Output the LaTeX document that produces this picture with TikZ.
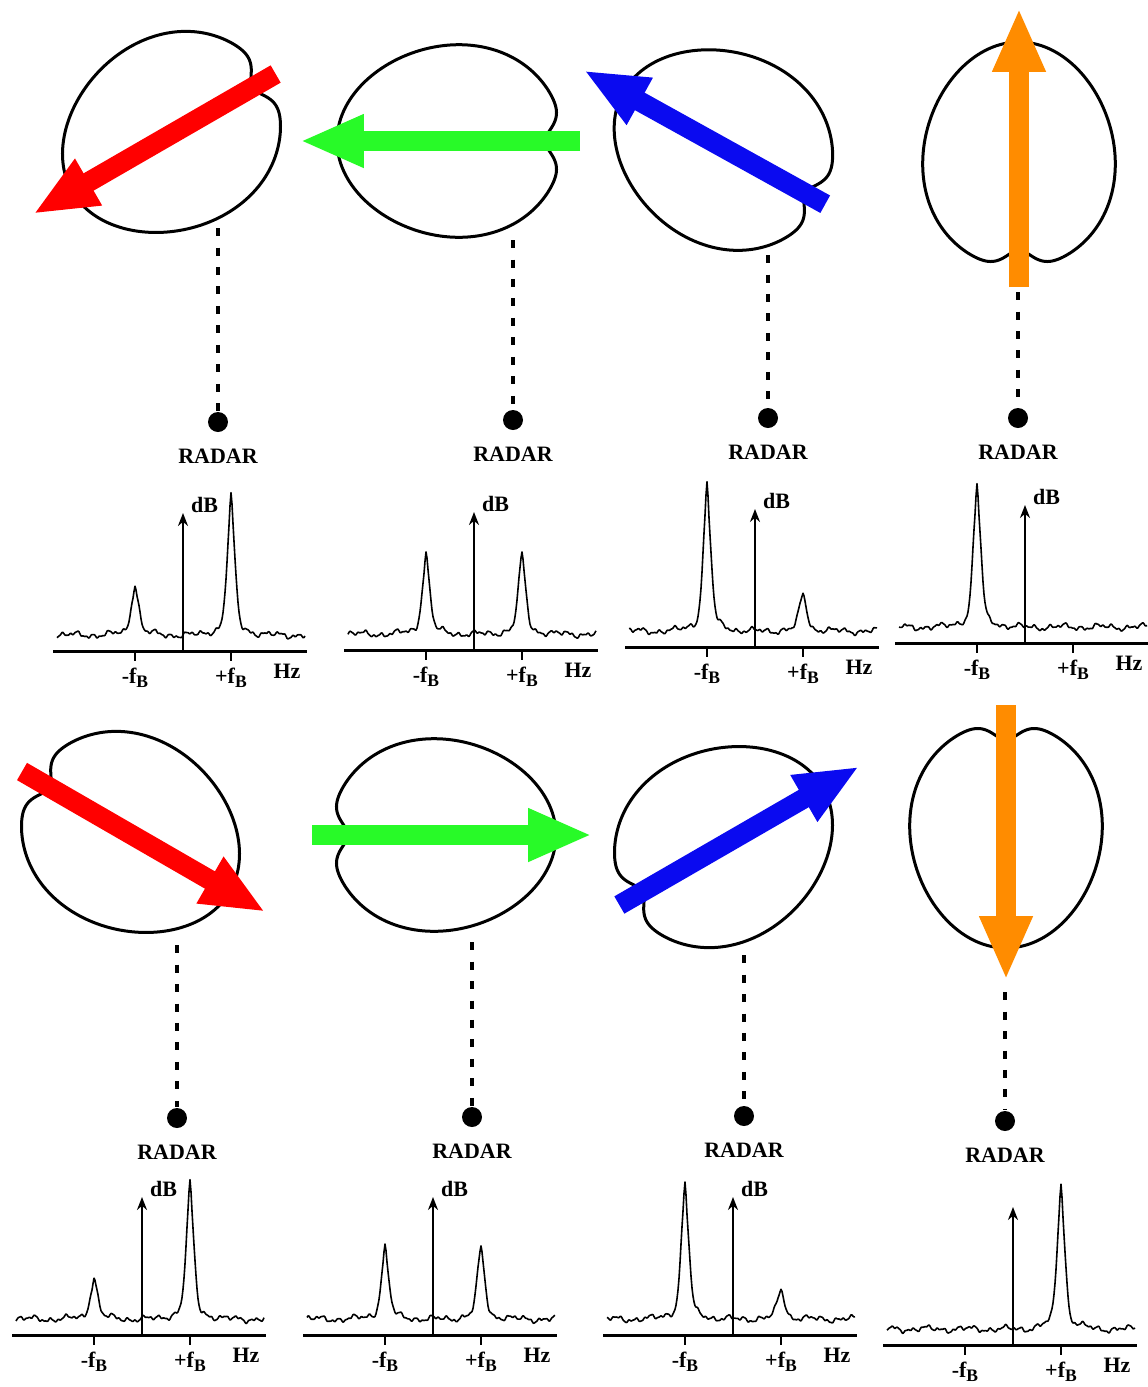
\documentclass[tikz,border=0pt]{standalone}
\usepackage{fontspec}
\setmainfont{Liberation Serif}
\usetikzlibrary{calc,positioning,arrows.meta}

\definecolor{arrowred}{RGB}{255,0,0}
\definecolor{arrowgreen}{RGB}{40,250,40}
\definecolor{arrowblue}{RGB}{10,10,240}
\definecolor{arroworange}{RGB}{255,140,0}

% frequency labels, the index set a little lower
\newcommand{\fb}[1]{#1f\raisebox{-0.35ex}{\fontsize{10}{12}\selectfont B}}

% target outline with the moving part drawn as a block arrow
\newcommand{\bean}[5]{%
  \begin{scope}[shift={#1}, rotate=#2]
    \draw[beanline] plot[domain=0:360, samples=145, smooth]
      ({113*cos(\x)*(1-0.16*pk(\x,180,11))},
       {96*sin(\x)*(1-0.08*cos(\x))*(1-0.16*pk(\x,180,11))}) -- cycle;
    \draw[bigarrow, #5] (#3,0) -- (#4,0);
  \end{scope}}

% doppler spectrum: name, origin x, origin y, left peak, right peak, noise phase
\newcommand{\spectrum}[6]{%
  \begin{scope}[shift={(#2,#3)}]
    \coordinate (#1) at (0,0);
    \coordinate (#1top) at (0,-138);
    \draw[hzaxis] (-130,0) -- (124,0);
    \draw[dbaxis] (#1) -- (#1top);
    \draw[fbtick] (-48,0) -- (-48,10);
    \draw[fbtick] (48,0) -- (48,10);
    \node[lbl] (#1m) at (-48,27) {\fb{-}};
    \node[lbl] (#1p) at (48,27) {\fb{+}};
    \node[lbl] (#1hz) at (104,20) {Hz};
    \draw[trace] plot[domain=-126:122, samples=249] (\x,{-tr(\x,#4,#5,#6)});
  \end{scope}}

\begin{document}
\begin{tikzpicture}[scale=1
        , x=0.02cm, y=-0.02cm
        , declare function={pk(\u,\c,\s)=exp(-(min(abs((\u-\c)/\s),4.5))^2);
            nz(\u,\p)=1.8*sin(9*\u+\p)+1.5*sin(23*\u+2*\p)+1.1*sin(47*\u+3*\p)+0.5*sin(89*\u);
            tr(\u,\l,\r,\p)=16+nz(\u,\p)
              +\l*(0.85*pk(\u,-48,5.5)+0.15*pk(\u,-48,1.3)+0.08*pk(\u,-48,20))
              +\r*(0.85*pk(\u,48,5.5)+0.15*pk(\u,48,1.3)+0.08*pk(\u,48,20));}
        , beanline/.style={draw=black, line width=0.06cm}
        , bigarrow/.style={line width=0.4cm, -{Triangle[length=1.28cm,width=0.98cm]}}
        , hzaxis/.style={line width=0.06cm}
        , dbaxis/.style={line width=0.04cm, -{Stealth[length=0.26cm,width=0.2cm]}}
        , fbtick/.style={line width=0.04cm}
        , trace/.style={line width=0.032cm, line join=round}
        , lbl/.style={font=\bfseries\fontsize{12.5}{14}\selectfont, inner sep=1pt}
        , radar/.style={circle, fill=black, minimum size=0.4cm, inner sep=0pt}
        , sight/.style={line width=0.075cm, dash pattern=on 0.16cm off 0.23cm, shorten >=0.02cm}
        ]

        \useasboundingbox (0,0) rectangle (1147,1387);

        % targets, top row
        \bean{(170,135)}{210}{-122}{158}{arrowred}
        \bean{(450,141)}{180}{-130}{150}{arrowgreen}
        \bean{(722,147)}{151}{-118}{158}{arrowblue}
        \bean{(1019,155)}{90}{-132}{147}{arroworange}

        % targets, bottom row
        \bean{(132,835)}{-30}{-127}{154}{arrowred}
        \bean{(443,835)}{0}{-131}{149}{arrowgreen}
        \bean{(725,844)}{30}{-122}{155}{arrowblue}
        \bean{(1006,835)}{-90}{-130}{145}{arroworange}

        % radar positions under every target
        \foreach \n/\x/\y/\t in {t1/218/422/228, t2/513/420/240, t3/768/418/255, t4/1018/418/292,
                                 b1/177/1118/945, b2/472/1117/942, b3/744/1116/955, b4/1005/1121/992} {
            \node[radar] (r\n) at (\x,\y) {};
            \node[lbl, below=0.3cm of r\n] (l\n) {RADAR};
            \coordinate (o\n) at (\x,\t);
            \draw[sight] (o\n) -- (r\n);
        }

        % spectra
        \spectrum{st1}{183}{651}{48}{129}{0}
        \spectrum{st2}{474}{650}{75}{74}{40}
        \spectrum{st3}{755}{647}{136}{35}{80}
        \spectrum{st4}{1025}{643}{133}{0}{120}
        \spectrum{sb1}{142}{1335}{39}{126}{20}
        \spectrum{sb2}{433}{1335}{67}{67}{60}
        \spectrum{sb3}{733}{1335}{126}{28}{100}
        \spectrum{sb4}{1013}{1345}{0}{136}{140}

        \foreach \s in {st1,st2,st3,st4,sb1,sb2,sb3}
            \node[lbl, anchor=west] at ($(\s top)+(6,-8)$) {dB};

    \end{tikzpicture}
\end{document}
